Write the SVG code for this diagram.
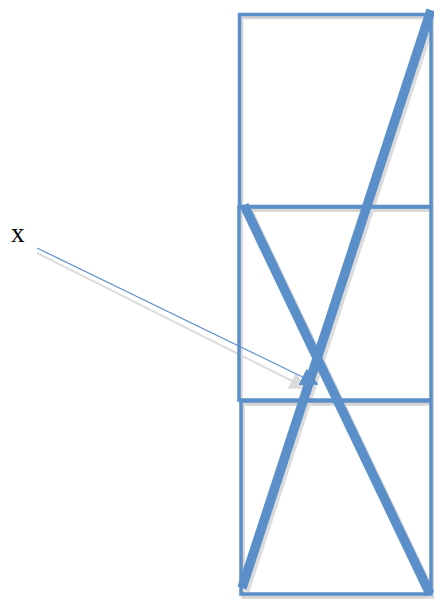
<svg xmlns="http://www.w3.org/2000/svg" width="434" height="603" viewBox="0 0 434 603">
<style>
.box{fill:none;stroke:#5b8fc9;stroke-width:3.5}
.sh{fill:none;stroke:#d4d4d4;stroke-width:3.5}
.diag{stroke:#5b8fc9;stroke-width:9.5}
.dsh{stroke:#dcdcdc;stroke-width:9}
.lbl{font-family:"Liberation Serif",serif;font-size:27px;fill:#000}
</style>
<defs>
<marker id="ah" viewBox="0 0 10 10" refX="9" refY="5" markerWidth="18" markerHeight="20" orient="auto" markerUnits="userSpaceOnUse"><path d="M0,0 L10,5 L0,10 z" fill="#5b8fc9"/></marker>
<marker id="ahs" viewBox="0 0 10 10" refX="9" refY="5" markerWidth="18" markerHeight="20" orient="auto" markerUnits="userSpaceOnUse"><path d="M0,0 L10,5 L0,10 z" fill="#dcdcdc"/></marker>
</defs>
<g id="shadows">
<rect class="sh" x="241.5" y="17.5" width="191.5" height="192"/>
<rect class="sh" x="241" y="210" width="192" height="193"/>
<rect class="sh" x="243" y="404" width="190" height="193"/>
<line class="dsh" x1="245" y1="591" x2="434" y2="13"/>
<line class="dsh" x1="247" y1="208" x2="433" y2="597"/>
<line x1="37" y1="253" x2="306" y2="388" stroke="#dcdcdc" stroke-width="2" marker-end="url(#ahs)"/>
</g>
<g id="box-top"><rect class="box" x="239.5" y="14.5" width="191.5" height="192"/></g>
<g id="box-middle"><rect class="box" x="239" y="207" width="192" height="193"/></g>
<g id="box-bottom"><rect class="box" x="241" y="401" width="190" height="193"/></g>
<g id="label-x"><text class="lbl" x="11" y="242">x</text></g>
<g id="connectors">
<line x1="37" y1="248" x2="317" y2="384" stroke="#5b8fc9" stroke-width="1.2" marker-end="url(#ah)"/>
<line class="diag" x1="242" y1="588" x2="431" y2="10"/>
<line class="diag" x1="244" y1="205" x2="430" y2="594"/>
</g>
</svg>
